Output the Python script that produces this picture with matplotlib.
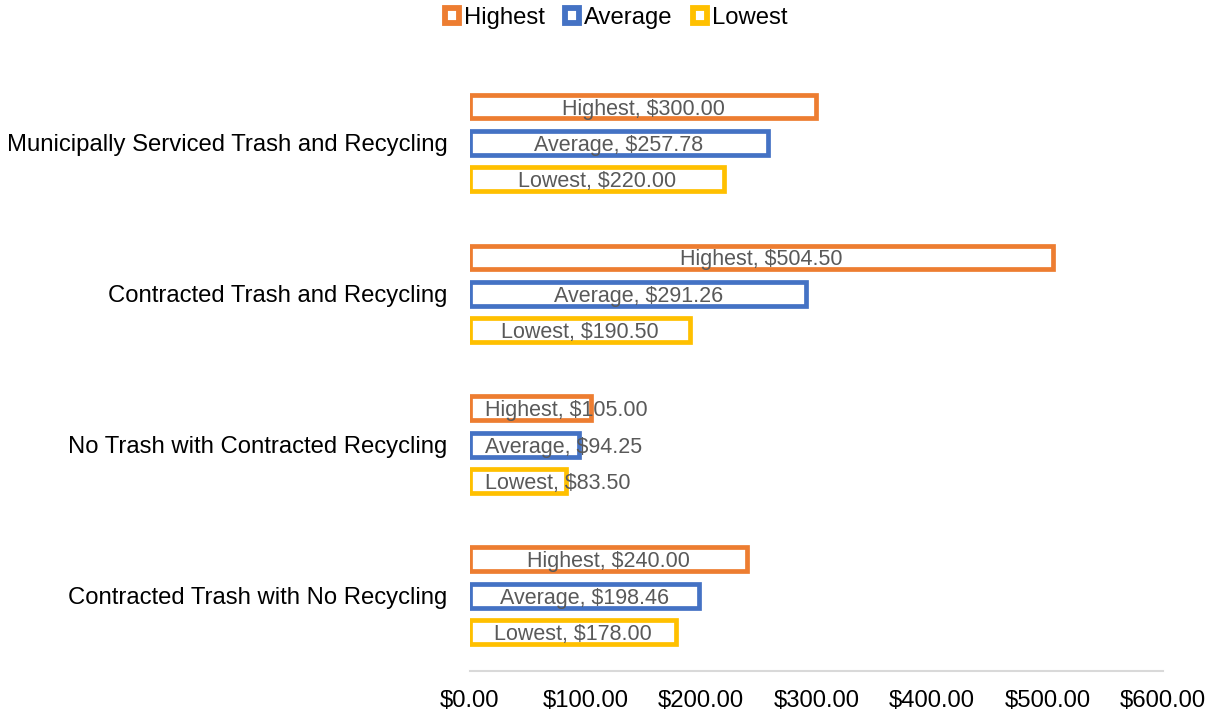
import numpy as np
import matplotlib.pyplot as plt
from matplotlib.patches import Patch

plt.rcParams['font.family'] = ['Liberation Sans', 'DejaVu Sans']

categories = ['Municipally Serviced Trash and Recycling',
              'Contracted Trash and Recycling',
              'No Trash with Contracted Recycling',
              'Contracted Trash with No Recycling']
series = ['Highest', 'Average', 'Lowest']
highest = [300.00, 504.50, 105.00, 240.00]
average = [257.78, 291.26, 94.25, 198.46]
lowest = [220.00, 190.50, 83.50, 178.00]
colors = ['#ED7D31', '#4472C4', '#FFC000']
ticks = [0, 100, 200, 300, 400, 500, 600]


fig = plt.figure(figsize=(12.15, 7.15), dpi=100)
ax = fig.add_axes([0.3868, 0.0615, 0.5704, 0.8441])

y = np.arange(len(categories))
offsets = [-0.241, 0.0, 0.241]
height = 0.158
for vals, name, col, off in zip([highest, average, lowest], series, colors, offsets):
    ax.barh(y + off, vals, height=height, facecolor='white', edgecolor=col,
            linewidth=3.4, label=name)
    for yi, v in zip(y, vals):
        text = '%s, $%.2f' % (name, v)
        if v >= 150:
            ax.text(v / 2, yi + off, text, ha='center', va='center_baseline',
                    fontsize=15.5, color='#595959')
        else:
            ax.text(13, yi + off, text, ha='left', va='center_baseline',
                    fontsize=15.5, color='#595959')

ax.set_ylim(len(categories) - 0.5, -0.5)
ax.set_xlim(0, 600)
ax.set_yticks(y)
ax.set_yticklabels(categories, fontsize=17.2)
ax.set_xticks(ticks)
ax.set_xticklabels(['$%.2f' % t for t in ticks], fontsize=17.2)
ax.tick_params(axis='both', length=0)
ax.tick_params(axis='x', pad=14)
ax.tick_params(axis='y', pad=16)
for s in ['top', 'right', 'left']:
    ax.spines[s].set_visible(False)
ax.spines['bottom'].set_color('#D9D9D9')
ax.spines['bottom'].set_linewidth(1.5)

handles = [Patch(facecolor='white', edgecolor=c, linewidth=4.2, label=n)
           for c, n in zip(colors, series)]
fig.legend(handles=handles, loc='upper center', bbox_to_anchor=(0.507, 1.02),
           ncol=3, frameon=False, fontsize=17.2, handlelength=0.6,
           handleheight=0.6, handletextpad=0.2, columnspacing=0.85)

fig.savefig('out.png', dpi=100)
